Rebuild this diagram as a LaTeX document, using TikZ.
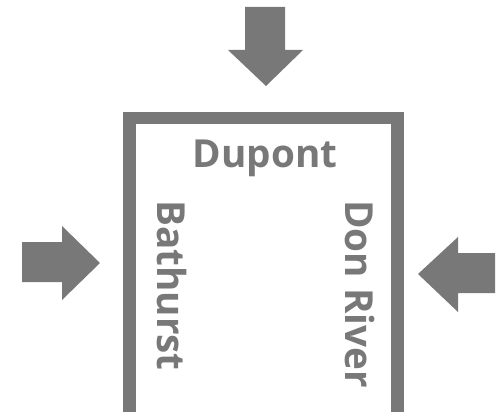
\documentclass[tikz,border=0pt]{standalone}
\usepackage{fontspec}
\setmainfont{Open Sans}
\usepackage{xcolor}
\definecolor{roadgray}{RGB}{120,120,120}

\tikzset{
    streetlabel/.style={font=\fontsize{22}{26}\selectfont\bfseries, text=roadgray, inner sep=0pt},
    blockarrow/.style={fill=roadgray, draw=none},
    boundary/.style={draw=roadgray, line width=0.26cm, miter limit=10}
}

\begin{document}
\begin{tikzpicture}[x=0.02cm, y=-0.02cm]
    \useasboundingbox (0,0) rectangle (500,412);
    \clip (0,0) rectangle (500,412);

    % Boundary frame (open at the bottom)
    \draw[boundary] (129.5,430) -- (129.5,118) -- (397,118) -- (397,430);

    % Street names
    \node[streetlabel, anchor=base] (dupont) at (265,167) {Dupont};
    \node[streetlabel, rotate=-90, anchor=base west] (bathurst) at (157,200) {Bathurst};
    \node[streetlabel, rotate=-90, anchor=base west] (donriver) at (345,200) {Don River};

    % Arrow from the north
    \fill[blockarrow] (245,7) -- (285,7) -- (285,50) -- (303,50) -- (266,86) -- (228,50) -- (245,50) -- cycle;

    % Arrow from the west
    \fill[blockarrow] (22,242) -- (62,242) -- (62,226) -- (100,263) -- (62,300) -- (62,282) -- (22,282) -- cycle;

    % Arrow from the east
    \fill[blockarrow] (495,253) -- (458,253) -- (458,237) -- (418,274) -- (458,312) -- (458,293) -- (495,293) -- cycle;
\end{tikzpicture}
\end{document}
